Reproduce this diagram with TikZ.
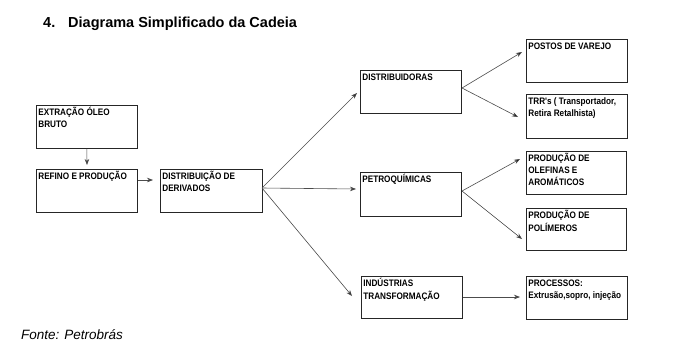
\documentclass[tikz,border=0pt]{standalone}
\usepackage{fontspec}
\setmainfont{Liberation Sans}
\newfontfamily\bxf{Liberation Sans}[FakeStretch=0.87]
\usetikzlibrary{arrows.meta}
\newcommand\bxfont{\bxf\fontsize{9.4}{11.7}\selectfont\bfseries}
\newcommand\bxt[3]{\parbox[t][#2pt][t]{#1pt}{\raggedright\strut #3}}
\tikzset{
  box/.style={draw=black!85, line width=0.7pt, inner xsep=2pt, inner ysep=2pt, anchor=north west, font=\bxfont},
  arr/.style={draw=black!70, line width=0.6pt, -{Stealth[length=6pt,width=4.5pt,fill=black]}}
}
\begin{document}
\begin{tikzpicture}[x=1pt,y=-1pt]
\useasboundingbox[fill=white] (0,0) rectangle (685,362);
% title
\node[anchor=base west, font=\fontsize{14.5}{16}\selectfont\bfseries, inner sep=0] (num) at (43,27) {4.};
\node[anchor=base west, font=\fontsize{14.5}{16}\selectfont\bfseries, inner sep=0] (title) at (68,27) {Diagrama Simplificado da Cadeia};
% boxes
\node[box] (ext) at (36,105) {\bxt{97}{39}{EXTRAÇÃO ÓLEO\\BRUTO}};
\node[box] (ref) at (36,169) {\bxt{97}{39}{REFINO E PRODUÇÃO}};
\node[box] (der) at (160,169) {\bxt{98}{39}{DISTRIBUIÇÃO DE\\DERIVADOS}};
\node[box] (dist) at (360,70) {\bxt{97}{39}{DISTRIBUIDORAS}};
\node[box] (pet) at (360,172) {\bxt{97}{40}{PETROQUÍMICAS}};
\node[box] (ind) at (361,276) {\bxt{97}{38}{INDÚSTRIAS\\TRANSFORMAÇÃO}};
\node[box] (pos) at (526,39) {\bxt{97}{39}{POSTOS DE VAREJO}};
\node[box] (trr) at (526,94) {\bxt{97}{40}{TRR's ( Transportador,\\Retira Retalhista)}};
\node[box] (ole) at (526,151) {\bxt{96}{39}{PRODUÇÃO DE\\OLEFINAS E\\AROMÁTICOS}};
\node[box] (pol) at (526,208) {\bxt{96}{38}{PRODUÇÃO DE\\POLÍMEROS}};
\node[box] (pro) at (526,276) {\bxt{97}{39}{PROCESSOS:\\Extrusão,sopro, injeção}};
% footer
\node[anchor=base west, font=\fontsize{13.5}{15}\selectfont\itshape, inner sep=0] (fonte) at (21,339) {Fonte: Petrobrás};
% connector end points
\coordinate (t1) at (87,165);
\coordinate (t2) at (153,180);
\coordinate (o3) at (262,188);
\coordinate (t3a) at (357,93);
\coordinate (t3b) at (356,189);
\coordinate (t3c) at (352,296);
\coordinate (o4) at (462,88);
\coordinate (t4a) at (522,52);
\coordinate (t4b) at (518,117);
\coordinate (o5) at (462,191);
\coordinate (t5a) at (520,159);
\coordinate (t5b) at (522,239);
\coordinate (o6) at (463,297);
\coordinate (t6) at (520,297);
% connectors
\draw[arr] (ext.south) -- (t1);
\draw[arr] (ref.east |- t2) -- (t2);
\draw[arr] (o3) -- (t3a);
\draw[arr] (o3) -- (t3b);
\draw[arr] (o3) -- (t3c);
\draw[arr] (o4) -- (t4a);
\draw[arr] (o4) -- (t4b);
\draw[arr] (o5) -- (t5a);
\draw[arr] (o5) -- (t5b);
\draw[arr] (o6) -- (t6);
\end{tikzpicture}
\end{document}
